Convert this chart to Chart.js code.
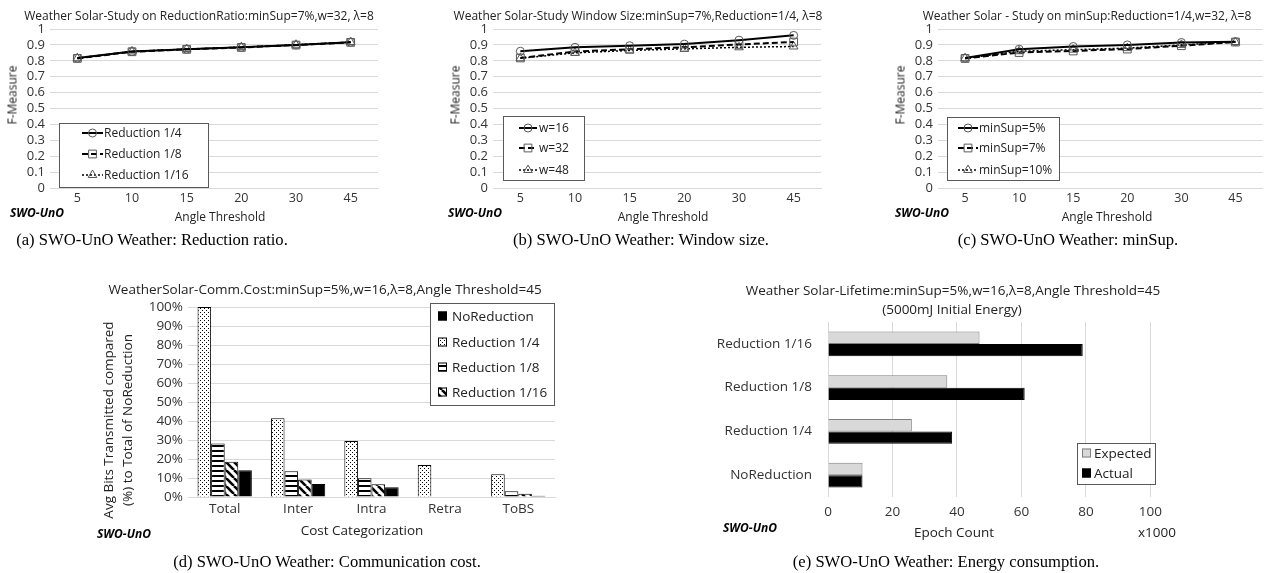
<!DOCTYPE html>
<html>
<head>
<meta charset="utf-8">
<script src="https://cdn.jsdelivr.net/npm/chart.js@4.4.0/dist/chart.umd.min.js"></script>
<style>
  body { margin: 0; background: #fff; width: 1269px; height: 573px; position: relative; overflow: hidden;
         font-family: "Open Sans", sans-serif; color: #222; }
  canvas { position: absolute; }
  .c { position: absolute; white-space: nowrap; transform: translate(-50%, -50%); }
  .l { position: absolute; white-space: nowrap; transform: translate(0, -50%); }
  .rot { transform: translate(-50%, -50%) rotate(-90deg); }
  .ttl { font-size: 12px; }
  .ax { font-size: 12px; }
  .big { font-size: 13.5px; }
  .swo { font-weight: bold; font-style: italic; font-size: 12px; color: #000; }
  .cap { font-family: "Liberation Serif", serif; font-size: 16.6px; color: #000; }
</style>
</head>
<body>
<canvas id="chartA" width="420" height="225" style="left:0;top:0"></canvas>
<canvas id="chartB" width="430" height="225" style="left:420px;top:0"></canvas>
<canvas id="chartC" width="419" height="225" style="left:850px;top:0"></canvas>
<canvas id="chartD" width="480" height="275" style="left:90px;top:270px"></canvas>
<canvas id="chartE" width="479" height="275" style="left:690px;top:270px"></canvas>

<!-- (a) -->
<div class="c ttl" style="left:199px;top:15px">Weather Solar-Study on ReductionRatio:minSup=7%,w=32, λ=8</div>
<div class="c ax rot" style="left:12px;top:95px">F-Measure</div>
<div class="c ax" style="left:220px;top:216px">Angle Threshold</div>
<div class="l swo" style="left:10px;top:212px">SWO-UnO</div>
<div class="c cap" style="left:152px;top:240px">(a) SWO-UnO Weather: Reduction ratio.</div>

<!-- (b) -->
<div class="c ttl" style="left:638px;top:15px">Weather Solar-Study Window Size:minSup=7%,Reduction=1/4, λ=8</div>
<div class="c ax rot" style="left:455px;top:95px">F-Measure</div>
<div class="c ax" style="left:663px;top:216px">Angle Threshold</div>
<div class="l swo" style="left:448px;top:212px">SWO-UnO</div>
<div class="c cap" style="left:641px;top:240px">(b) SWO-UnO Weather: Window size.</div>

<!-- (c) -->
<div class="c ttl" style="left:1087px;top:15px">Weather Solar - Study on minSup:Reduction=1/4,w=32, λ=8</div>
<div class="c ax rot" style="left:900px;top:95px">F-Measure</div>
<div class="c ax" style="left:1107px;top:216px">Angle Threshold</div>
<div class="l swo" style="left:895px;top:212px">SWO-UnO</div>
<div class="c cap" style="left:1068px;top:240px">(c) SWO-UnO Weather: minSup.</div>

<!-- (d) -->
<div class="c big" style="left:325px;top:289px">WeatherSolar-Comm.Cost:minSup=5%,w=16,λ=8,Angle Threshold=45</div>
<div class="c big rot" style="left:108px;top:420px">Avg Bits Transmitted compared</div>
<div class="c big rot" style="left:127px;top:420px">(%) to Total of NoReduction</div>
<div class="c big" style="left:362px;top:530px">Cost Categorization</div>
<div class="l swo" style="left:97px;top:533px">SWO-UnO</div>
<div class="c cap" style="left:327px;top:562px">(d) SWO-UnO Weather: Communication cost.</div>

<!-- (e) -->
<div class="c big" style="left:953px;top:290px">Weather Solar-Lifetime:minSup=5%,w=16,λ=8,Angle Threshold=45</div>
<div class="c big" style="left:952px;top:309px">(5000mJ Initial Energy)</div>
<div class="c big" style="left:954px;top:532px">Epoch Count</div>
<div class="l big" style="left:1138px;top:532px">x1000</div>
<div class="l swo" style="left:723px;top:527px">SWO-UnO</div>
<div class="c cap" style="left:946px;top:562px">(e) SWO-UnO Weather: Energy consumption.</div>

<script>
// ---- data ----
const angleLabels = ['5', '10', '15', '20', '30', '45'];

const ratioNames = ['Reduction 1/4', 'Reduction 1/8', 'Reduction 1/16'];
const ratio4 = [0.817, 0.858, 0.873, 0.885, 0.900, 0.917];
const ratio8 = [0.815, 0.857, 0.872, 0.884, 0.899, 0.916];
const ratio16 = [0.816, 0.859, 0.874, 0.886, 0.901, 0.918];

const windowNames = ['w=16', 'w=32', 'w=48'];
const win16 = [0.860, 0.885, 0.895, 0.905, 0.930, 0.960];
const win32 = [0.818, 0.858, 0.873, 0.885, 0.903, 0.918];
const win48 = [0.816, 0.850, 0.865, 0.875, 0.885, 0.890];

const supNames = ['minSup=5%', 'minSup=7%', 'minSup=10%'];
const sup5 = [0.817, 0.873, 0.890, 0.900, 0.915, 0.920];
const sup7 = [0.815, 0.852, 0.862, 0.874, 0.895, 0.918];
const sup10 = [0.816, 0.860, 0.870, 0.880, 0.900, 0.918];

const costLabels = ['Total', 'Inter', 'Intra', 'Retra', 'ToBS'];
const costNames = ['Reduction 1/4', 'Reduction 1/8', 'Reduction 1/16', 'NoReduction'];
const cost4 = [100, 41.5, 29.5, 16.8, 12];
const cost8 = [28.2, 13.6, 9.9, 0, 3];
const cost16 = [18.5, 9.2, 6.7, 0, 1.7];
const costNone = [14.1, 6.9, 5.1, 0, 0.7];

const lifeLabels = ['Reduction 1/16', 'Reduction 1/8', 'Reduction 1/4', 'NoReduction'];
const lifeExpected = [47, 37, 26, 10.7];
const lifeActual = [79, 61, 38.5, 10.7];

// ---- look ----
Chart.defaults.font.family = '"Open Sans", sans-serif';
Chart.defaults.color = '#333';
const gridGray = '#d9d9d9';

function makePattern(kind) {
  const c = document.createElement('canvas');
  const s = kind === 'diag' ? 8 : kind === 'hlines' ? 5 : 4;
  c.width = s; c.height = s;
  const g = c.getContext('2d');
  g.fillStyle = '#fff';
  g.fillRect(0, 0, s, s);
  g.fillStyle = '#000';
  g.strokeStyle = '#000';
  if (kind === 'dots') {
    g.fillRect(0, 0, 1, 1);
    g.fillRect(2, 2, 1, 1);
  } else if (kind === 'hlines') {
    g.fillRect(0, 0, s, 2);
  } else if (kind === 'diag') {
    g.lineWidth = 2.6;
    for (let i = -1; i <= 1; i++) {
      g.beginPath();
      g.moveTo(i * s, 0);
      g.lineTo(i * s + s, s);
      g.stroke();
    }
  }
  return g.createPattern(c, 'repeat');
}

function drawMarker(ctx, style, x, y, r, stroke, fill) {
  ctx.save();
  ctx.setLineDash([]);
  ctx.lineWidth = 1;
  ctx.strokeStyle = stroke;
  ctx.fillStyle = fill;
  ctx.beginPath();
  if (style === 'circle') {
    ctx.arc(x, y, r, 0, Math.PI * 2);
  } else if (style === 'rect') {
    const s = r * Math.SQRT1_2;
    ctx.rect(x - s, y - s, 2 * s, 2 * s);
  } else if (style === 'triangle') {
    let a = 0;
    ctx.moveTo(x + Math.sin(a) * r, y - Math.cos(a) * r);
    a += Math.PI * 2 / 3;
    ctx.lineTo(x + Math.sin(a) * r, y - Math.cos(a) * r);
    a += Math.PI * 2 / 3;
    ctx.lineTo(x + Math.sin(a) * r, y - Math.cos(a) * r);
    ctx.closePath();
  }
  ctx.fill();
  ctx.stroke();
  ctx.restore();
}

// legend drawn inside the plot, in a bordered box, like the Excel originals
const insetLegend = {
  id: 'insetLegend',
  afterDraw(chart, args, o) {
    if (!o || !o.box) return;
    const ctx = chart.ctx;
    const [bx, by, bw, bh] = o.box;
    ctx.save();
    ctx.fillStyle = '#fff';
    ctx.fillRect(bx, by, bw, bh);
    ctx.strokeStyle = '#595959';
    ctx.lineWidth = 1;
    ctx.strokeRect(bx + 0.5, by + 0.5, bw, bh);
    ctx.font = o.font;
    ctx.textBaseline = 'middle';
    o.order.forEach((di, i) => {
      const ds = chart.data.datasets[di];
      const y = o.rows[i];
      if (o.kind === 'line') {
        ctx.save();
        ctx.strokeStyle = ds.borderColor;
        ctx.lineWidth = ds.borderWidth;
        ctx.setLineDash(ds.borderDash);
        ctx.beginPath();
        ctx.moveTo(o.sampleX, y);
        ctx.lineTo(o.sampleX + o.sampleW, y);
        ctx.stroke();
        ctx.restore();
        drawMarker(ctx, ds.pointStyle, o.sampleX + o.sampleW / 2, y, ds.pointRadius,
          ds.pointBorderColor, ds.pointBackgroundColor);
      } else {
        ctx.fillStyle = ds.backgroundColor;
        ctx.fillRect(o.sampleX, y - 4.5, 9, 9);
        ctx.strokeStyle = ds.borderColor;
        ctx.strokeRect(o.sampleX + 0.5, y - 4, 8, 8);
      }
      ctx.fillStyle = '#222';
      ctx.fillText(ds.label, o.textX, y + 1);
    });
    ctx.restore();
  }
};
Chart.register(insetLegend);

const lineLooks = [
  { dash: [], style: 'circle', r: 4, w: 2 },
  { dash: [6, 3], style: 'rect', r: 5.5, w: 2 },
  { dash: [2, 2], style: 'triangle', r: 5, w: 1.5 }
];

function lineSet(label, data, i) {
  const k = lineLooks[i];
  return {
    label, data,
    borderColor: '#000', borderWidth: k.w, borderDash: k.dash,
    pointStyle: k.style, pointRadius: k.r, pointBorderWidth: 1,
    pointBorderColor: '#595959', pointBackgroundColor: 'rgba(255,255,255,0)',
    fill: false, tension: 0
  };
}

function lineChart(id, names, series, pad, yWidth, legend) {
  new Chart(document.getElementById(id), {
    type: 'line',
    data: {
      labels: angleLabels,
      datasets: series.map((s, i) => lineSet(names[i], s, i))
    },
    options: {
      responsive: false,
      animation: false,
      layout: { padding: pad },
      plugins: {
        legend: { display: false },
        tooltip: { enabled: false },
        insetLegend: Object.assign({ kind: 'line', order: [0, 1, 2], font: '12px "Open Sans"' }, legend)
      },
      scales: {
        x: {
          offset: true,
          grid: { display: false, drawTicks: false },
          border: { display: true, color: gridGray },
          ticks: { padding: 3, font: { size: 12.5 } },
          afterFit: s => { s.height = 25; }
        },
        y: {
          min: 0, max: 1,
          grid: { color: gridGray, drawTicks: false },
          border: { display: false },
          ticks: { stepSize: 0.1, autoSkip: false, padding: 5, font: { size: 13 },
                   callback: v => String(+v.toFixed(1)) },
          afterFit: s => { s.width = yWidth; }
        }
      }
    }
  });
}

lineChart('chartA', ratioNames, [ratio4, ratio8, ratio16],
  { left: 0, top: 29, right: 42, bottom: 12 }, 50,
  { box: [59, 123, 149, 64], rows: [133, 154, 175], sampleX: 82, sampleW: 21, textX: 104 });

lineChart('chartB', windowNames, [win16, win32, win48],
  { left: 0, top: 29, right: 29, bottom: 12 }, 73,
  { box: [83, 116, 81, 64], rows: [128, 148, 170], sampleX: 99, sampleW: 18, textX: 119 });

lineChart('chartC', supNames, [sup5, sup7, sup10],
  { left: 0, top: 29, right: 4, bottom: 12 }, 88,
  { box: [97, 117, 112, 63], rows: [128, 148, 170], sampleX: 108, sampleW: 20, textX: 129 });

// communication cost bars
const costFills = [makePattern('dots'), makePattern('hlines'), makePattern('diag'), '#000'];
new Chart(document.getElementById('chartD'), {
  type: 'bar',
  data: {
    labels: costLabels,
    datasets: [cost4, cost8, cost16, costNone].map((d, i) => ({
      label: costNames[i], data: d,
      backgroundColor: costFills[i], borderColor: '#000', borderWidth: 1,
      categoryPercentage: 0.74, barPercentage: 1
    }))
  },
  options: {
    responsive: false,
    animation: false,
    layout: { padding: { left: 0, top: 37, right: 15, bottom: 18 } },
    plugins: {
      legend: { display: false },
      tooltip: { enabled: false },
      insetLegend: {
        kind: 'box', order: [3, 0, 1, 2], font: '13.5px "Open Sans"',
        box: [340, 33, 124, 102], rows: [46, 72, 97, 122], sampleX: 348, textX: 362
      }
    },
    scales: {
      x: {
        grid: { display: false, drawTicks: false },
        border: { display: true, color: gridGray },
        ticks: { padding: 4, font: { size: 13.5 } },
        afterFit: s => { s.height = 30; }
      },
      y: {
        min: 0, max: 100,
        grid: { color: gridGray, drawTicks: false },
        border: { display: false },
        ticks: { stepSize: 10, autoSkip: false, padding: 5, font: { size: 13.5 }, callback: v => v + '%' },
        afterFit: s => { s.width = 98; }
      }
    }
  }
});

// lifetime bars
new Chart(document.getElementById('chartE'), {
  type: 'bar',
  data: {
    labels: lifeLabels,
    datasets: [
      { label: 'Expected', data: lifeExpected, backgroundColor: '#d9d9d9', borderColor: '#7f7f7f',
        borderWidth: 1, categoryPercentage: 0.57, barPercentage: 1 },
      { label: 'Actual', data: lifeActual, backgroundColor: '#000', borderColor: '#000',
        borderWidth: 1, categoryPercentage: 0.57, barPercentage: 1 }
    ]
  },
  options: {
    indexAxis: 'y',
    responsive: false,
    animation: false,
    layout: { padding: { left: 0, top: 52, right: 17, bottom: 18 } },
    plugins: {
      legend: { display: false },
      tooltip: { enabled: false },
      insetLegend: {
        kind: 'box', order: [0, 1], font: '13.5px "Open Sans"',
        box: [387, 173, 78, 41], rows: [183, 203], sampleX: 392, textX: 404
      }
    },
    scales: {
      x: {
        min: 0, max: 100,
        grid: { color: gridGray, drawTicks: false },
        border: { display: false },
        ticks: { stepSize: 20, padding: 7, font: { size: 13.5 } },
        afterFit: s => { s.height = 30; }
      },
      y: {
        grid: { display: false, drawTicks: false },
        border: { display: false },
        ticks: { padding: 16, font: { size: 13.5 } },
        afterFit: s => { s.width = 138; }
      }
    }
  }
});
</script>
</body>
</html>
